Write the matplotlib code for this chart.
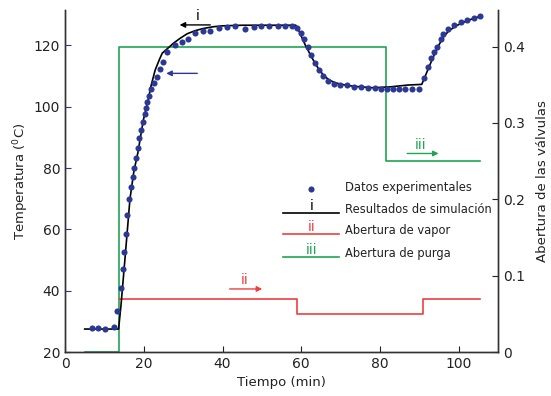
import matplotlib
matplotlib.use("Agg")
import matplotlib.pyplot as plt

# ---- data ----
exp_time = [6.8, 8.5, 10.2, 12.4, 13.1, 14.2, 14.6, 15.1, 15.4, 15.8, 16.3, 16.8, 17.2, 17.6,
            18.0, 18.5, 18.9, 19.4, 19.7, 20.2, 20.5, 20.9, 21.3, 21.9, 22.6, 23.4, 24.2, 24.8,
            25.9, 28.0, 29.8, 31.2, 33.0, 35.0, 36.8, 39.1, 41.1, 43.3, 45.6, 48.0, 49.9, 51.9,
            54.1, 56.0, 57.7, 58.9, 60.0, 60.8, 61.8, 62.6, 63.5, 64.6, 65.6, 66.9, 68.2, 69.9,
            71.6, 73.4, 75.1, 76.9, 78.7, 80.3, 81.7, 83.3, 84.8, 86.4, 88.1, 89.8, 91.2, 92.1,
            93.0, 93.8, 94.5, 95.5, 96.1, 97.2, 98.7, 100.6, 102.2, 103.9, 105.5]
exp_temp = [28.0, 27.7, 27.5, 28.3, 33.4, 41.0, 47.2, 52.7, 58.5, 64.7, 69.8, 73.9, 77.2, 80.1,
            83.2, 86.7, 89.7, 92.4, 95.1, 97.5, 99.5, 101.7, 103.5, 105.7, 107.7, 109.6, 112.2, 114.7,
            118.0, 120.3, 121.1, 122.2, 124.2, 124.7, 124.8, 125.8, 125.9, 126.5, 125.4, 125.9, 126.4, 126.4,
            126.5, 126.5, 126.2, 125.6, 124.0, 122.1, 119.4, 116.9, 114.4, 112.0, 110.1, 108.5, 107.4, 107.0,
            107.0, 106.5, 106.4, 106.1, 106.1, 105.9, 105.9, 105.8, 105.8, 105.9, 105.8, 105.8, 109.3, 112.9,
            115.8, 117.8, 119.6, 122.1, 123.7, 125.3, 126.7, 127.6, 128.3, 128.9, 129.5]

sim_time = [5.0, 13.6, 14.2, 15.2, 16.5, 17.5, 18.5, 19.9, 21.0, 21.8, 22.9, 24.0, 24.7, 26.3,
            27.5, 29.2, 31.0, 33.0, 35.0, 37.6, 40.0, 45.0, 50.0, 55.0, 58.6, 59.5, 61.0, 62.3,
            63.5, 64.6, 65.6, 67.0, 68.5, 69.9, 72.0, 74.1, 78.3, 82.6, 87.2, 90.6, 91.5, 92.5,
            93.6, 94.8, 96.1, 97.5, 99.5, 101.5, 103.5, 105.5]
sim_temp = [27.5, 27.5, 35.0, 50.0, 70.0, 79.0, 85.0, 95.7, 101.5, 106.6, 112.0, 115.5, 117.5, 119.3,
            120.7, 122.3, 123.8, 124.8, 125.5, 126.1, 126.4, 126.6, 126.6, 126.6, 126.6, 124.5, 120.2, 117.0,
            114.2, 112.0, 110.4, 108.8, 107.9, 107.4, 106.9, 106.6, 106.2, 106.5, 107.1, 107.3, 110.0, 113.2,
            116.4, 119.8, 122.7, 124.8, 126.5, 127.7, 128.7, 129.5]

vapor_time = [13.7, 58.9, 90.8, 105.3]
vapor_open = [0.07, 0.05, 0.07, 0.07]
purga_time = [5.0, 13.6, 81.6, 105.3]
purga_open = [0.0, 0.40, 0.25, 0.25]

xticks = [0, 20, 40, 60, 80, 100]
yticks_left = [20, 40, 60, 80, 100, 120]
yticks_right = [0, 0.1, 0.2, 0.3, 0.4]

BLUE = '#2b3896'
RED = '#ee3e3e'
GREEN = '#1ea653'
TXT = '#222222'

plt.rcParams['font.family'] = ['DejaVu Sans']
fig = plt.figure(figsize=(5.51, 3.96), dpi=100)
ax = fig.add_axes([0.118, 0.111, 0.786, 0.864])
ax2 = ax.twinx()

# right-axis series
ax2.plot(purga_time, purga_open, drawstyle='steps-post', color=GREEN, lw=1.2, clip_on=False)
ax2.plot(vapor_time, vapor_open, drawstyle='steps-post', color=RED, lw=1.2, clip_on=False)
ax2.set_ylim(0, 0.448)
ax2.set_yticks(yticks_right)
ax2.set_yticklabels(['0', '0.1', '0.2', '0.3', '0.4'])

# left axis on top
ax.set_zorder(ax2.get_zorder() + 1)
ax.patch.set_visible(False)
ax.plot(sim_time, sim_temp, color='black', lw=1.2)
ax.plot(exp_time, exp_temp, 'o', color=BLUE, ms=4.4, mec='none')

ax.set_xlim(0, 110)
ax.set_ylim(20, 131.6)
ax.set_xticks(xticks)
ax.set_yticks(yticks_left)

for a in (ax, ax2):
    a.spines['top'].set_visible(False)
    for s in a.spines.values():
        s.set_color('#333333')
        s.set_linewidth(1.0)
ax.tick_params(axis='both', direction='in', length=4, labelsize=10, colors=TXT)
ax.tick_params(axis='y', color=BLUE)
ax2.tick_params(axis='y', direction='in', length=4, labelsize=10, colors=TXT)

ax.set_xlabel('Tiempo (min)', fontsize=9.5, color=TXT, labelpad=4)
ax.set_ylabel(r'Temperatura ($^0$C)', fontsize=9.5, color=TXT, labelpad=2)
ax2.set_ylabel('Abertura de las válvulas', fontsize=9.5, color=TXT, labelpad=8)

# annotations in the plot
ax.annotate('', xy=(28.4, 126.7), xytext=(37.6, 126.7),
            arrowprops=dict(arrowstyle='-|>', color='black', lw=1.0, mutation_scale=8))
ax.text(33.6, 127.3, 'i', color='black', fontsize=10, ha='center', va='bottom')
ax.annotate('', xy=(25.0, 110.9), xytext=(34.3, 110.9),
            arrowprops=dict(arrowstyle='-|>', color=BLUE, lw=1.0, mutation_scale=8))
ax2.annotate('', xy=(50.8, 0.0826), xytext=(41.1, 0.0826),
             arrowprops=dict(arrowstyle='-|>', color=RED, lw=1.0, mutation_scale=8))
ax2.text(45.7, 0.0846, 'ii', color=RED, fontsize=10, ha='center', va='bottom')
ax2.annotate('', xy=(95.6, 0.26), xytext=(86.2, 0.26),
             arrowprops=dict(arrowstyle='-|>', color=GREEN, lw=1.0, mutation_scale=8))
ax2.text(90.2, 0.262, 'iii', color=GREEN, fontsize=10, ha='center', va='bottom')

# custom legend
T = ax.transAxes
ax.plot([0.567], [0.4775], 'o', color=BLUE, ms=4.4, mec='none', transform=T, clip_on=False)
ax.text(0.647, 0.4795, 'Datos experimentales', transform=T, fontsize=8.3, va='center', color=TXT)
rows = [(0.4055, 'black', 'i', 'Resultados de simulación'),
        (0.344, RED, 'ii', 'Abertura de vapor'),
        (0.277, GREEN, 'iii', 'Abertura de purga')]
for yy, col, roman, lab in rows:
    ax.plot([0.504, 0.633], [yy, yy], color=col, lw=1.2, transform=T, clip_on=False)
    ax.text(0.5685, yy + 0.002, roman, color=col, fontsize=10, ha='center', va='bottom', transform=T)
    ax.text(0.647, yy + 0.012, lab, transform=T, fontsize=8.3, va='center', color=TXT)

fig.savefig('out.png', dpi=100)
